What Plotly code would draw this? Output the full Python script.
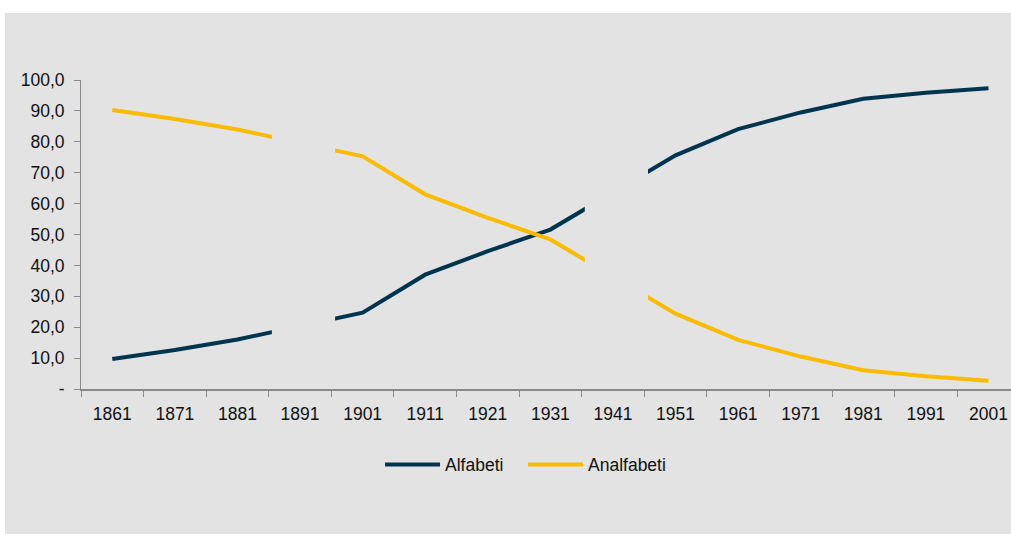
import plotly.graph_objects as go

# Census years (no census was held in 1891 and 1941)
years = ["1861", "1871", "1881", "1891", "1901", "1911", "1921", "1931",
         "1941", "1951", "1961", "1971", "1981", "1991", "2001"]
alfabeti = [9.7, 12.6, 16.0, None, 24.7, 37.0, 44.6, 51.6,
            None, 75.6, 84.1, 89.5, 93.9, 95.9, 97.3]
analfabeti = [90.3, 87.4, 84.0, None, 75.3, 63.0, 55.4, 48.4,
              None, 24.4, 15.9, 10.5, 6.1, 4.1, 2.7]
missing_years = ["1891", "1941"]

y_ticks = [0, 10, 20, 30, 40, 50, 60, 70, 80, 90, 100]
y_tick_text = ["-", "10,0", "20,0", "30,0", "40,0", "50,0",
               "60,0", "70,0", "80,0", "90,0", "100,0"]

BG = "#e2e3e2"
BLUE = "#00344f"
YELLOW = "#fbbb00"
FONT = "Liberation Sans, Arial, sans-serif"
FS = 17.5
PAD = "\u00a0" * 3  # extra room between the two legend entries

fig = go.Figure()
fig.add_trace(go.Scatter(x=years, y=alfabeti, name="Alfabeti" + PAD,
                         mode="lines", connectgaps=True,
                         line=dict(color=BLUE, width=4)))
fig.add_trace(go.Scatter(x=years, y=analfabeti, name="Analfabeti",
                         mode="lines", connectgaps=True,
                         line=dict(color=YELLOW, width=4)))

shapes = [
    # grey chart panel
    dict(type="rect", xref="paper", yref="paper",
         x0=-0.0817, x1=1.01, y0=-0.469, y1=1.217,
         fillcolor=BG, line=dict(width=0), layer="below"),
]
# blank out the stretch around census years with no survey
for yr in missing_years:
    i = years.index(yr)
    shapes.append(dict(type="rect", xref="x", yref="y",
                       x0=i - 0.45, x1=i + 0.56, y0=0.8, y1=100,
                       fillcolor=BG, line=dict(width=0), layer="above"))

fig.update_layout(
    width=1011, height=535,
    margin=dict(l=81, r=0, t=80, b=146),
    paper_bgcolor="white", plot_bgcolor=BG,
    font=dict(family=FONT, size=FS, color="#111111"),
    shapes=shapes,
    showlegend=True,
    legend=dict(orientation="h", x=0.478, xanchor="center", y=-0.245,
                yanchor="middle", font=dict(size=FS),
                bgcolor="rgba(0,0,0,0)", itemwidth=55),
    xaxis=dict(type="category", range=[-0.5, 14.36],
               showgrid=False, zeroline=False,
               showline=True, linecolor="#8a8a8a", linewidth=2,
               ticks="outside", tickson="boundaries", ticklen=6,
               tickcolor="#8a8a8a", tickwidth=1,
               ticklabelstandoff=8,
               tickfont=dict(size=FS)),
    yaxis=dict(range=[0, 100], tickvals=y_ticks, ticktext=y_tick_text,
               showgrid=False, zeroline=False,
               showline=True, linecolor="#8a8a8a", linewidth=1,
               ticks="outside", ticklen=6, tickcolor="#8a8a8a",
               ticklabelstandoff=6,
               tickfont=dict(size=FS)),
)

fig.write_html("out.html")
